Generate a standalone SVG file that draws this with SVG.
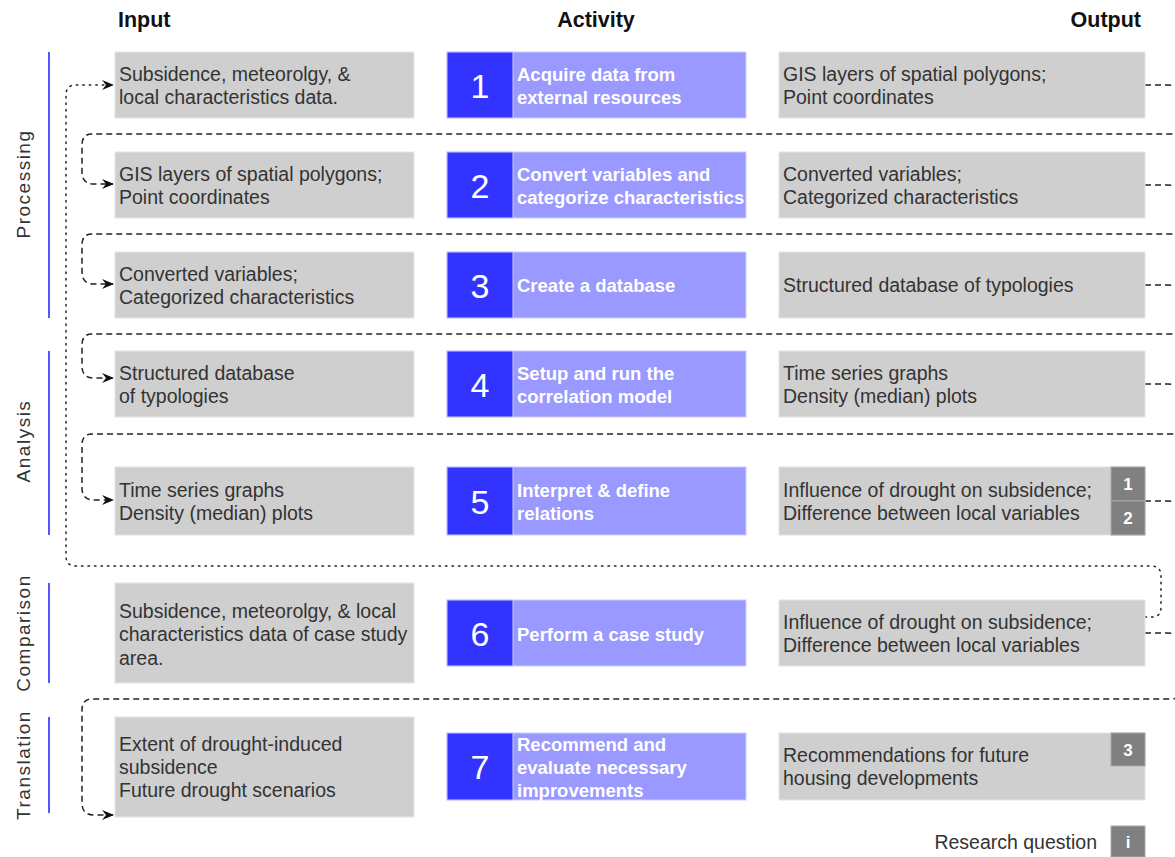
<svg xmlns="http://www.w3.org/2000/svg" width="1175" height="857" viewBox="0 0 1175 857">
<style>
text{font-family:"Liberation Sans",Arial,sans-serif}
.hd{font-size:21.5px;font-weight:bold;fill:#111}
.box{fill:#cfcfcf;stroke:#e4e4e4;stroke-width:1}
.t{font-size:19.5px;fill:#333}
.num{fill:#3333ff;stroke:#ccccff;stroke-width:1}
.act{fill:#9999ff;stroke:#ccccff;stroke-width:1}
.nt{font-size:34px;fill:#fff;text-anchor:middle}
.at{font-size:18.5px;fill:#fff;font-weight:bold}
.bd{fill:#808080;stroke:#a8a8a8;stroke-width:1}
.bt{font-size:17px;fill:#fff;font-weight:bold;text-anchor:middle}
.lbl{font-size:19px;fill:#333;text-anchor:middle;letter-spacing:1.5px}
.sec{stroke:#5555ff;stroke-width:2}
.dash{fill:none;stroke:#222;stroke-width:1.5;stroke-dasharray:6 4}
.dot{fill:none;stroke:#222;stroke-width:1.5;stroke-dasharray:1.5 5;stroke-linecap:round}
</style>
<defs>
<marker id="ah" viewBox="0 0 12 10" refX="11" refY="5" markerWidth="12" markerHeight="10" markerUnits="userSpaceOnUse" orient="auto">
<path d="M0,0 L12,5 L0,10 L4,5 Z" fill="#111"/>
</marker>
</defs>
<rect width="1175" height="857" fill="#fff"/>
<g id="headers">
<text class="hd" x="118" y="27">Input</text>
<text class="hd" x="596" y="27" text-anchor="middle">Activity</text>
<text class="hd" x="1141" y="27" text-anchor="end">Output</text>
</g>
<g id="sections">
<line class="sec" x1="49" y1="52" x2="49" y2="318"/>
<text class="lbl" transform="translate(30,184) rotate(-90)">Processing</text>
<line class="sec" x1="49" y1="351" x2="49" y2="535"/>
<text class="lbl" transform="translate(30,441) rotate(-90)">Analysis</text>
<line class="sec" x1="49" y1="583" x2="49" y2="683"/>
<text class="lbl" transform="translate(30,633) rotate(-90)">Comparison</text>
<line class="sec" x1="49" y1="717" x2="49" y2="813"/>
<text class="lbl" transform="translate(30,765) rotate(-90)">Translation</text>
</g>
<g id="connectors">
<path class="dash" d="M1145,85 L1168,85 Q1185,85 1185,100 L1185,120 Q1185,134 1170,134 L92,134 Q82,134 82,145 L82,172 Q82,184 94,184 L113,184" marker-end="url(#ah)"/>
<path class="dash" d="M1145,185 L1168,185 Q1185,185 1185,200 L1185,220 Q1185,234 1170,234 L92,234 Q82,234 82,245 L82,272 Q82,284 94,284 L113,284" marker-end="url(#ah)"/>
<path class="dash" d="M1145,285 L1168,285 Q1185,285 1185,300 L1185,320 Q1185,334 1170,334 L92,334 Q82,334 82,345 L82,366 Q82,378 94,378 L113,378" marker-end="url(#ah)"/>
<path class="dash" d="M1145,384 L1168,384 Q1185,384 1185,400 L1185,420 Q1185,434 1170,434 L92,434 Q82,434 82,445 L82,488 Q82,500 94,500 L113,500" marker-end="url(#ah)"/>
<path class="dash" d="M1145,501 L1168,501 Q1185,501 1185,516 L1185,540"/>
<path class="dash" d="M1145,633 L1168,633 Q1185,633 1185,648 L1185,685 Q1185,699 1170,699 L92,699 Q82,699 82,710 L82,803 Q82,815 94,815 L113,815" marker-end="url(#ah)"/>
<path class="dot" d="M1145,617 L1152,617 Q1161,617 1161,607 L1161,576 Q1161,566 1151,566 L76,566 Q66,566 66,556 L66,95 Q66,85 76,85 L113,85" marker-end="url(#ah)"/>
</g>
<g id="input1"><rect class="box" x="115" y="52" width="299" height="66"/><text class="t" x="119" y="81">Subsidence, meteorolgy, &amp;</text><text class="t" x="119" y="104">local characteristics data.</text></g>
<g id="input2"><rect class="box" x="115" y="152" width="299" height="66"/><text class="t" x="119" y="181">GIS layers of spatial polygons;</text><text class="t" x="119" y="204">Point coordinates</text></g>
<g id="input3"><rect class="box" x="115" y="252" width="299" height="66"/><text class="t" x="119" y="281">Converted variables;</text><text class="t" x="119" y="304">Categorized characteristics</text></g>
<g id="input4"><rect class="box" x="115" y="351" width="299" height="66"/><text class="t" x="119" y="380">Structured database</text><text class="t" x="119" y="403">of typologies</text></g>
<g id="input5"><rect class="box" x="115" y="467" width="299" height="68"/><text class="t" x="119" y="497">Time series graphs</text><text class="t" x="119" y="520">Density (median) plots</text></g>
<g id="input6"><rect class="box" x="115" y="583" width="299" height="100"/><text class="t" x="119" y="618">Subsidence, meteorolgy, &amp; local</text><text class="t" x="119" y="641">characteristics data of case study</text><text class="t" x="119" y="665">area.</text></g>
<g id="input7"><rect class="box" x="115" y="717" width="299" height="100"/><text class="t" x="119" y="751">Extent of drought-induced</text><text class="t" x="119" y="774">subsidence</text><text class="t" x="119" y="797">Future drought scenarios</text></g>

<g id="activity1"><rect class="act" x="447" y="52" width="299" height="66"/><rect class="num" x="447" y="52" width="66" height="66"/><text class="nt" x="480" y="98">1</text><text class="at" x="517" y="81">Acquire data from</text><text class="at" x="517" y="104">external resources</text></g>
<g id="activity2"><rect class="act" x="447" y="152" width="299" height="66"/><rect class="num" x="447" y="152" width="66" height="66"/><text class="nt" x="480" y="198">2</text><text class="at" x="517" y="181">Convert variables and</text><text class="at" x="517" y="204">categorize characteristics</text></g>
<g id="activity3"><rect class="act" x="447" y="252" width="299" height="66"/><rect class="num" x="447" y="252" width="66" height="66"/><text class="nt" x="480" y="298">3</text><text class="at" x="517" y="292">Create a database</text></g>
<g id="activity4"><rect class="act" x="447" y="351" width="299" height="66"/><rect class="num" x="447" y="351" width="66" height="66"/><text class="nt" x="480" y="397">4</text><text class="at" x="517" y="380">Setup and run the</text><text class="at" x="517" y="403">correlation model</text></g>
<g id="activity5"><rect class="act" x="447" y="467" width="299" height="68"/><rect class="num" x="447" y="467" width="66" height="68"/><text class="nt" x="480" y="514">5</text><text class="at" x="517" y="497">Interpret &amp; define</text><text class="at" x="517" y="520">relations</text></g>
<g id="activity6"><rect class="act" x="447" y="600" width="299" height="66"/><rect class="num" x="447" y="600" width="66" height="66"/><text class="nt" x="480" y="646">6</text><text class="at" x="517" y="641">Perform a case study</text></g>
<g id="activity7"><rect class="act" x="447" y="733" width="299" height="67"/><rect class="num" x="447" y="733" width="66" height="67"/><text class="nt" x="480" y="779">7</text><text class="at" x="517" y="751">Recommend and</text><text class="at" x="517" y="774">evaluate necessary</text><text class="at" x="517" y="797">improvements</text></g>

<g id="output1"><rect class="box" x="779" y="52" width="366" height="66"/><text class="t" x="783" y="81">GIS layers of spatial polygons;</text><text class="t" x="783" y="104">Point coordinates</text></g>
<g id="output2"><rect class="box" x="779" y="152" width="366" height="66"/><text class="t" x="783" y="181">Converted variables;</text><text class="t" x="783" y="204">Categorized characteristics</text></g>
<g id="output3"><rect class="box" x="779" y="252" width="366" height="66"/><text class="t" x="783" y="292">Structured database of typologies</text></g>
<g id="output4"><rect class="box" x="779" y="351" width="366" height="66"/><text class="t" x="783" y="380">Time series graphs</text><text class="t" x="783" y="403">Density (median) plots</text></g>
<g id="output5"><rect class="box" x="779" y="467" width="366" height="68"/><text class="t" x="783" y="497">Influence of drought on subsidence;</text><text class="t" x="783" y="520">Difference between local variables</text><rect class="bd" x="1111" y="467" width="34" height="34"/><text class="bt" x="1128" y="490">1</text><rect class="bd" x="1111" y="501" width="34" height="34"/><text class="bt" x="1128" y="524">2</text></g>
<g id="output6"><rect class="box" x="779" y="600" width="366" height="66"/><text class="t" x="783" y="629">Influence of drought on subsidence;</text><text class="t" x="783" y="652">Difference between local variables</text></g>
<g id="output7"><rect class="box" x="779" y="733" width="366" height="67"/><text class="t" x="783" y="762">Recommendations for future</text><text class="t" x="783" y="785">housing developments</text><rect class="bd" x="1111" y="733" width="34" height="33"/><text class="bt" x="1128" y="756">3</text></g>
<g id="legend"><text class="t" x="1097" y="849" text-anchor="end">Research question</text><rect class="bd" x="1111" y="826" width="34" height="31"/><text class="bt" x="1128" y="848">i</text></g>
</svg>
